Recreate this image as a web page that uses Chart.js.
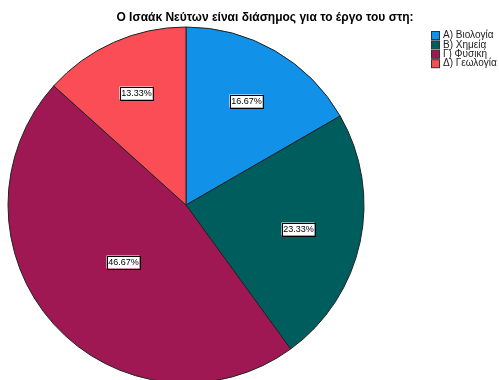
<!DOCTYPE html>
<html>
<head>
<meta charset="utf-8">
<script src="https://cdn.jsdelivr.net/npm/chart.js@4/dist/chart.umd.min.js"></script>
<style>
  html, body { margin: 0; padding: 0; background: #fff; }
  #wrap { width: 499px; height: 380px; position: relative; }
</style>
</head>
<body>
<div id="wrap"><canvas id="pie" width="499" height="380"></canvas></div>
<script>
// chart data
const chartTitle = 'Ο Ισαάκ Νεύτων είναι διάσημος για το έργο του στη:';
const categories = ['Α) Βιολογία', 'Β) Χημεία', 'Γ) Φυσική', 'Δ) Γεωλογία'];
const percents = [16.67, 23.33, 46.67, 13.33];
const sliceColors = ['#1192e8', '#005d5d', '#9f1853', '#fa4d56'];

const FONT = '"Liberation Sans", Arial, sans-serif';

// title + legend on the right
const decorPlugin = {
    id: 'decor',
    afterDraw(chart) {
        const ctx = chart.ctx;
        ctx.save();
        ctx.fillStyle = '#000';
        ctx.font = 'bold 12px ' + FONT;
        ctx.textAlign = 'center';
        ctx.textBaseline = 'middle';
        ctx.fillText(chartTitle, 265, 18);

        ctx.font = '10px ' + FONT;
        ctx.textAlign = 'left';
        categories.forEach((name, i) => {
            const y = 31 + i * 9.4;
            ctx.fillStyle = sliceColors[i];
            ctx.fillRect(431.5, y + 0.5, 8, 8);
            ctx.strokeStyle = '#333';
            ctx.lineWidth = 1;
            ctx.strokeRect(431.5, y + 0.5, 8, 8);
            ctx.fillStyle = '#222';
            ctx.fillText(name, 443, y + 4.5);
        });
        ctx.restore();
    }
};

// boxed percentage labels near each slice centroid
const sliceLabelPlugin = {
    id: 'sliceLabels',
    afterDatasetsDraw(chart) {
        const ctx = chart.ctx;
        const meta = chart.getDatasetMeta(0);
        ctx.save();
        ctx.font = '9px ' + FONT;
        ctx.textAlign = 'center';
        ctx.textBaseline = 'middle';
        meta.data.forEach((arc, i) => {
            const p = arc.getProps(['x', 'y', 'startAngle', 'endAngle', 'outerRadius'], true);
            const span = p.endAngle - p.startAngle;
            const mid = p.startAngle + span / 2;
            const half = span / 2;
            const d = (2 / 3) * p.outerRadius * Math.sin(half) / half * 1.06;
            const x = Math.round(p.x + Math.cos(mid) * d);
            const y = Math.round(p.y + Math.sin(mid) * d);
            const text = percents[i].toFixed(2) + '%';
            const w = Math.ceil(ctx.measureText(text).width) + 2;
            const h = 13;
            ctx.fillStyle = '#fff';
            ctx.fillRect(x - w / 2, y - h / 2, w, h);
            ctx.strokeStyle = '#000';
            ctx.lineWidth = 1;
            ctx.strokeRect(Math.round(x - w / 2) + 0.5, Math.round(y - h / 2) + 0.5, w, h);
            ctx.fillStyle = '#000';
            ctx.fillText(text, x + 0.5, y + 1);
        });
        ctx.restore();
    }
};

const ctx = document.getElementById('pie').getContext('2d');
new Chart(ctx, {
    type: 'pie',
    data: {
        labels: categories,
        datasets: [{
            data: percents,
            backgroundColor: sliceColors,
            borderColor: '#222',
            borderWidth: 1,
            clip: false
        }]
    },
    options: {
        responsive: false,
        animation: false,
        radius: 178,
        layout: {
            padding: { left: 0, right: 127, top: 30, bottom: 0 }
        },
        plugins: {
            legend: { display: false },
            title: { display: false },
            tooltip: { enabled: false }
        }
    },
    plugins: [decorPlugin, sliceLabelPlugin]
});
</script>
</body>
</html>
